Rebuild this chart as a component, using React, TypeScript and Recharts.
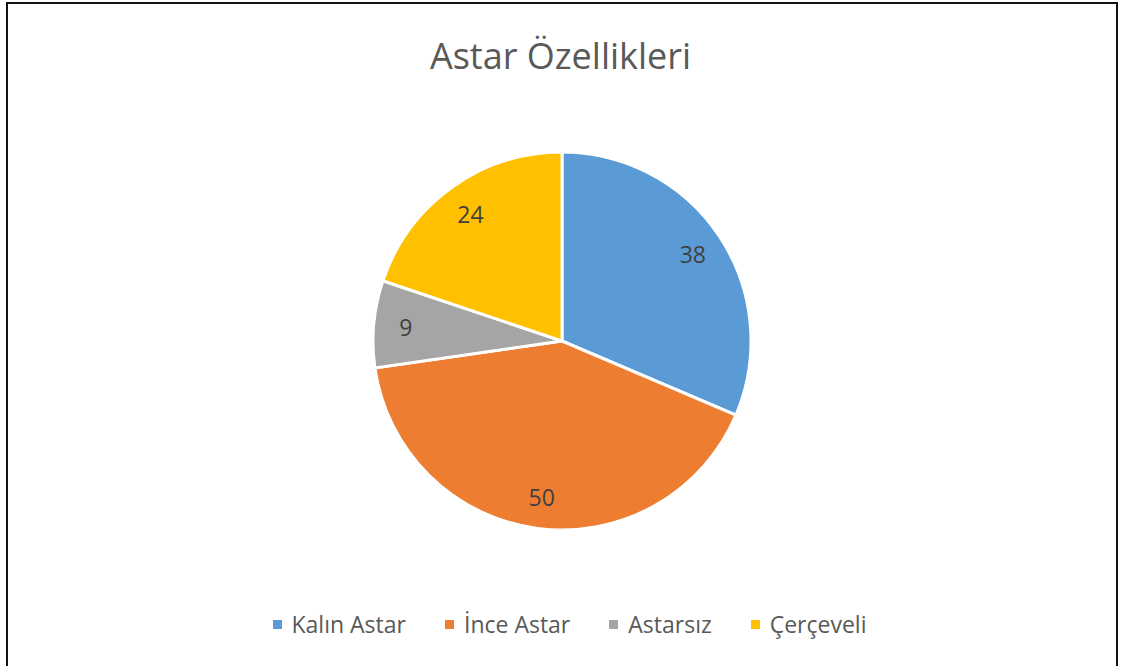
import { PieChart, Pie, Cell, Legend } from "recharts"

const categories = ["Kalın Astar", "İnce Astar", "Astarsız", "Çerçeveli"]
const values = [38, 50, 9, 24]
const colors = ["#5B9BD5", "#ED7D31", "#A5A5A5", "#FFC000"]

const data = categories.map((name, i) => ({ name, value: values[i] }))

const FONT = "'Open Sans', sans-serif"
const RAD = Math.PI / 180

function SliceLabel(props: any) {
  const { cx, cy, midAngle, outerRadius, value } = props
  const r = outerRadius * 0.83
  const x = cx + r * Math.cos(-midAngle * RAD)
  const y = cy + r * Math.sin(-midAngle * RAD)
  return (
    <text x={x} y={y} fill="#404040" fontSize={23} fontFamily={FONT} textAnchor="middle" dominantBaseline="central">
      {value}
    </text>
  )
}

function LegendContent({ payload }: any) {
  // keep the data order, not the sorted one
  const items = [...(payload || [])].sort(
    (a: any, b: any) => categories.indexOf(a.value) - categories.indexOf(b.value)
  )
  return (
    <div style={{ display: "flex", justifyContent: "center", gap: 39, paddingLeft: 18, fontFamily: FONT, fontSize: 23, color: "#595959" }}>
      {items.map((p: any) => (
        <div key={p.value} style={{ display: "flex", alignItems: "center" }}>
          <span style={{ width: 9, height: 9, background: p.color, marginRight: 10, display: "inline-block" }} />
          <span>{p.value}</span>
        </div>
      ))}
    </div>
  )
}

export default function App() {
  return (
    <div style={{ position: "fixed", left: 0, top: 0, width: 1121, height: 666, overflow: "hidden", background: "#fff" }}>
      <div style={{ position: "absolute", left: 6, top: 2, width: 1108, height: 700, border: "2px solid #111" }} />
      <div style={{ position: "absolute", left: 0, top: 31, width: 1121, textAlign: "center", fontFamily: FONT, fontSize: 36, color: "#595959" }}>
        Astar Özellikleri
      </div>
      <div style={{ position: "absolute", left: 0, top: 0 }}>
        <PieChart width={1121} height={666} margin={{ top: 0, right: 0, bottom: 0, left: 0 }}>
          <Pie
            data={data}
            dataKey="value"
            nameKey="name"
            cx={562}
            cy={341}
            outerRadius={189}
            startAngle={90}
            endAngle={-270}
            stroke="#fff"
            strokeWidth={3}
            label={SliceLabel}
            labelLine={false}
            isAnimationActive={false}
          >
            {data.map((d, i) => (
              <Cell key={d.name} fill={colors[i]} />
            ))}
          </Pie>
          <Legend verticalAlign="bottom" content={LegendContent} wrapperStyle={{ bottom: 26 }} />
        </PieChart>
      </div>
    </div>
  )
}
